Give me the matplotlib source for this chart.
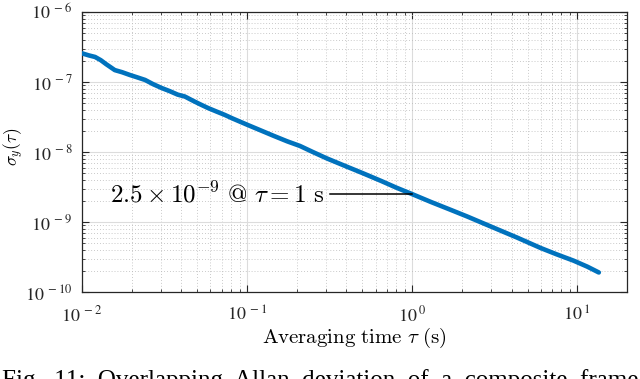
import matplotlib
matplotlib.use("Agg")
import matplotlib.pyplot as plt
from matplotlib.ticker import NullFormatter, LogLocator

tau = [0.0100, 0.0110, 0.0120, 0.0130, 0.0140, 0.0158, 0.0175, 0.0195, 0.0215,
       0.0241, 0.027, 0.0304, 0.034, 0.038, 0.042, 0.047, 0.052, 0.058, 0.065,
       0.073, 0.082, 0.091, 0.101, 0.12, 0.145, 0.175, 0.209, 0.25, 0.304,
       0.40, 0.50, 0.65, 0.80, 1.0, 1.3, 1.7, 2.15, 3.0, 4.31, 6.0, 7.5, 9.5,
       11.5, 13.5]
sigma = [2.57e-7, 2.4e-7, 2.28e-7, 2.05e-7, 1.8e-7, 1.48e-7, 1.38e-7, 1.26e-7, 1.17e-7,
         1.07e-7, 9.3e-8, 8.2e-8, 7.4e-8, 6.6e-8, 6.2e-8, 5.4e-8, 4.8e-8, 4.25e-8, 3.8e-8,
         3.4e-8, 3.0e-8, 2.7e-8, 2.43e-8, 2.05e-8, 1.7e-8, 1.42e-8, 1.22e-8, 1.0e-8, 8.1e-9,
         6.2e-9, 5.0e-9, 3.85e-9, 3.1e-9, 2.5e-9, 1.93e-9, 1.5e-9, 1.2e-9, 8.6e-10, 6.0e-10,
         4.25e-10, 3.45e-10, 2.8e-10, 2.3e-10, 1.9e-10]

xticks = [1e-2, 1e-1, 1e0, 1e1]
xticklabels = [r'$10^{\;-2}$', r'$10^{\;-1}$', r'$10^{\;0}$', r'$10^{\;1}$']
yticks = [1e-10, 1e-9, 1e-8, 1e-7, 1e-6]
yticklabels = [r'$10^{\;-10}$', r'$10^{\;-9}$', r'$10^{\;-8}$', r'$10^{\;-7}$', r'$10^{\;-6}$']

ann_tau = 1.0
ann_sigma = 2.5e-9

fig = plt.figure(figsize=(6.4, 3.79), dpi=100)
ax = fig.add_axes([0.1281, 0.2296, 0.8516, 0.7387])

ax.set_xscale('log')
ax.set_yscale('log')
ax.set_xlim(1e-2, 20)
ax.set_ylim(1e-10, 1e-6)

ax.plot(tau, sigma, color='#0072BD', lw=3.3, solid_capstyle='round',
        solid_joinstyle='round', zorder=3)

# annotation
ax.plot([0.318, ann_tau], [ann_sigma, ann_sigma], color='black', lw=1.1, zorder=4)
ax.text(0.293, ann_sigma, r'$2.5\times10^{-9}\ @\ \tau=1\ \mathrm{s}$', ha='right',
        va='center', fontsize=18, math_fontfamily='cm', zorder=4)

ax.set_xticks(xticks)
ax.set_xticklabels(xticklabels, fontsize=13, math_fontfamily='stix')
ax.set_yticks(yticks)
ax.set_yticklabels(yticklabels, fontsize=13, math_fontfamily='stix')
ax.xaxis.set_minor_locator(LogLocator(base=10, subs=range(2, 10)))
ax.yaxis.set_minor_locator(LogLocator(base=10, subs=range(2, 10)))
ax.xaxis.set_minor_formatter(NullFormatter())
ax.yaxis.set_minor_formatter(NullFormatter())

ax.tick_params(which='both', direction='in', top=True, right=True, colors='#262626')
ax.tick_params(which='major', length=5, width=0.8)
ax.tick_params(axis='x', which='major', pad=10)
ax.tick_params(axis='y', which='major', pad=7)
ax.tick_params(which='minor', length=2.5, width=0.6)

ax.grid(True, which='major', color='#dcdcdc', lw=0.8, ls='-', zorder=0)
ax.grid(True, which='minor', color='#b8b8b8', lw=0.6, ls=(0, (1, 2.5)), zorder=0)
for s in ax.spines.values():
    s.set_color('#262626')
    s.set_linewidth(0.9)

ax.set_xlabel(r'$\mathrm{Averaging\ time}\ \tau\ \mathrm{(s)}$', fontsize=15,
              math_fontfamily='cm', labelpad=0)
ax.set_ylabel(r'$\sigma_y(\tau)$', fontsize=12.5, math_fontfamily='cm')
ax.yaxis.set_label_coords(-0.102, 0.52)

fig.text(0.003, -0.021, 'Fig.  11:  Overlapping  Allan  deviation  of  a  composite  frame',
         fontsize=18, family='Liberation Serif', ha='left', va='baseline')

fig.savefig('out.png', dpi=100)
